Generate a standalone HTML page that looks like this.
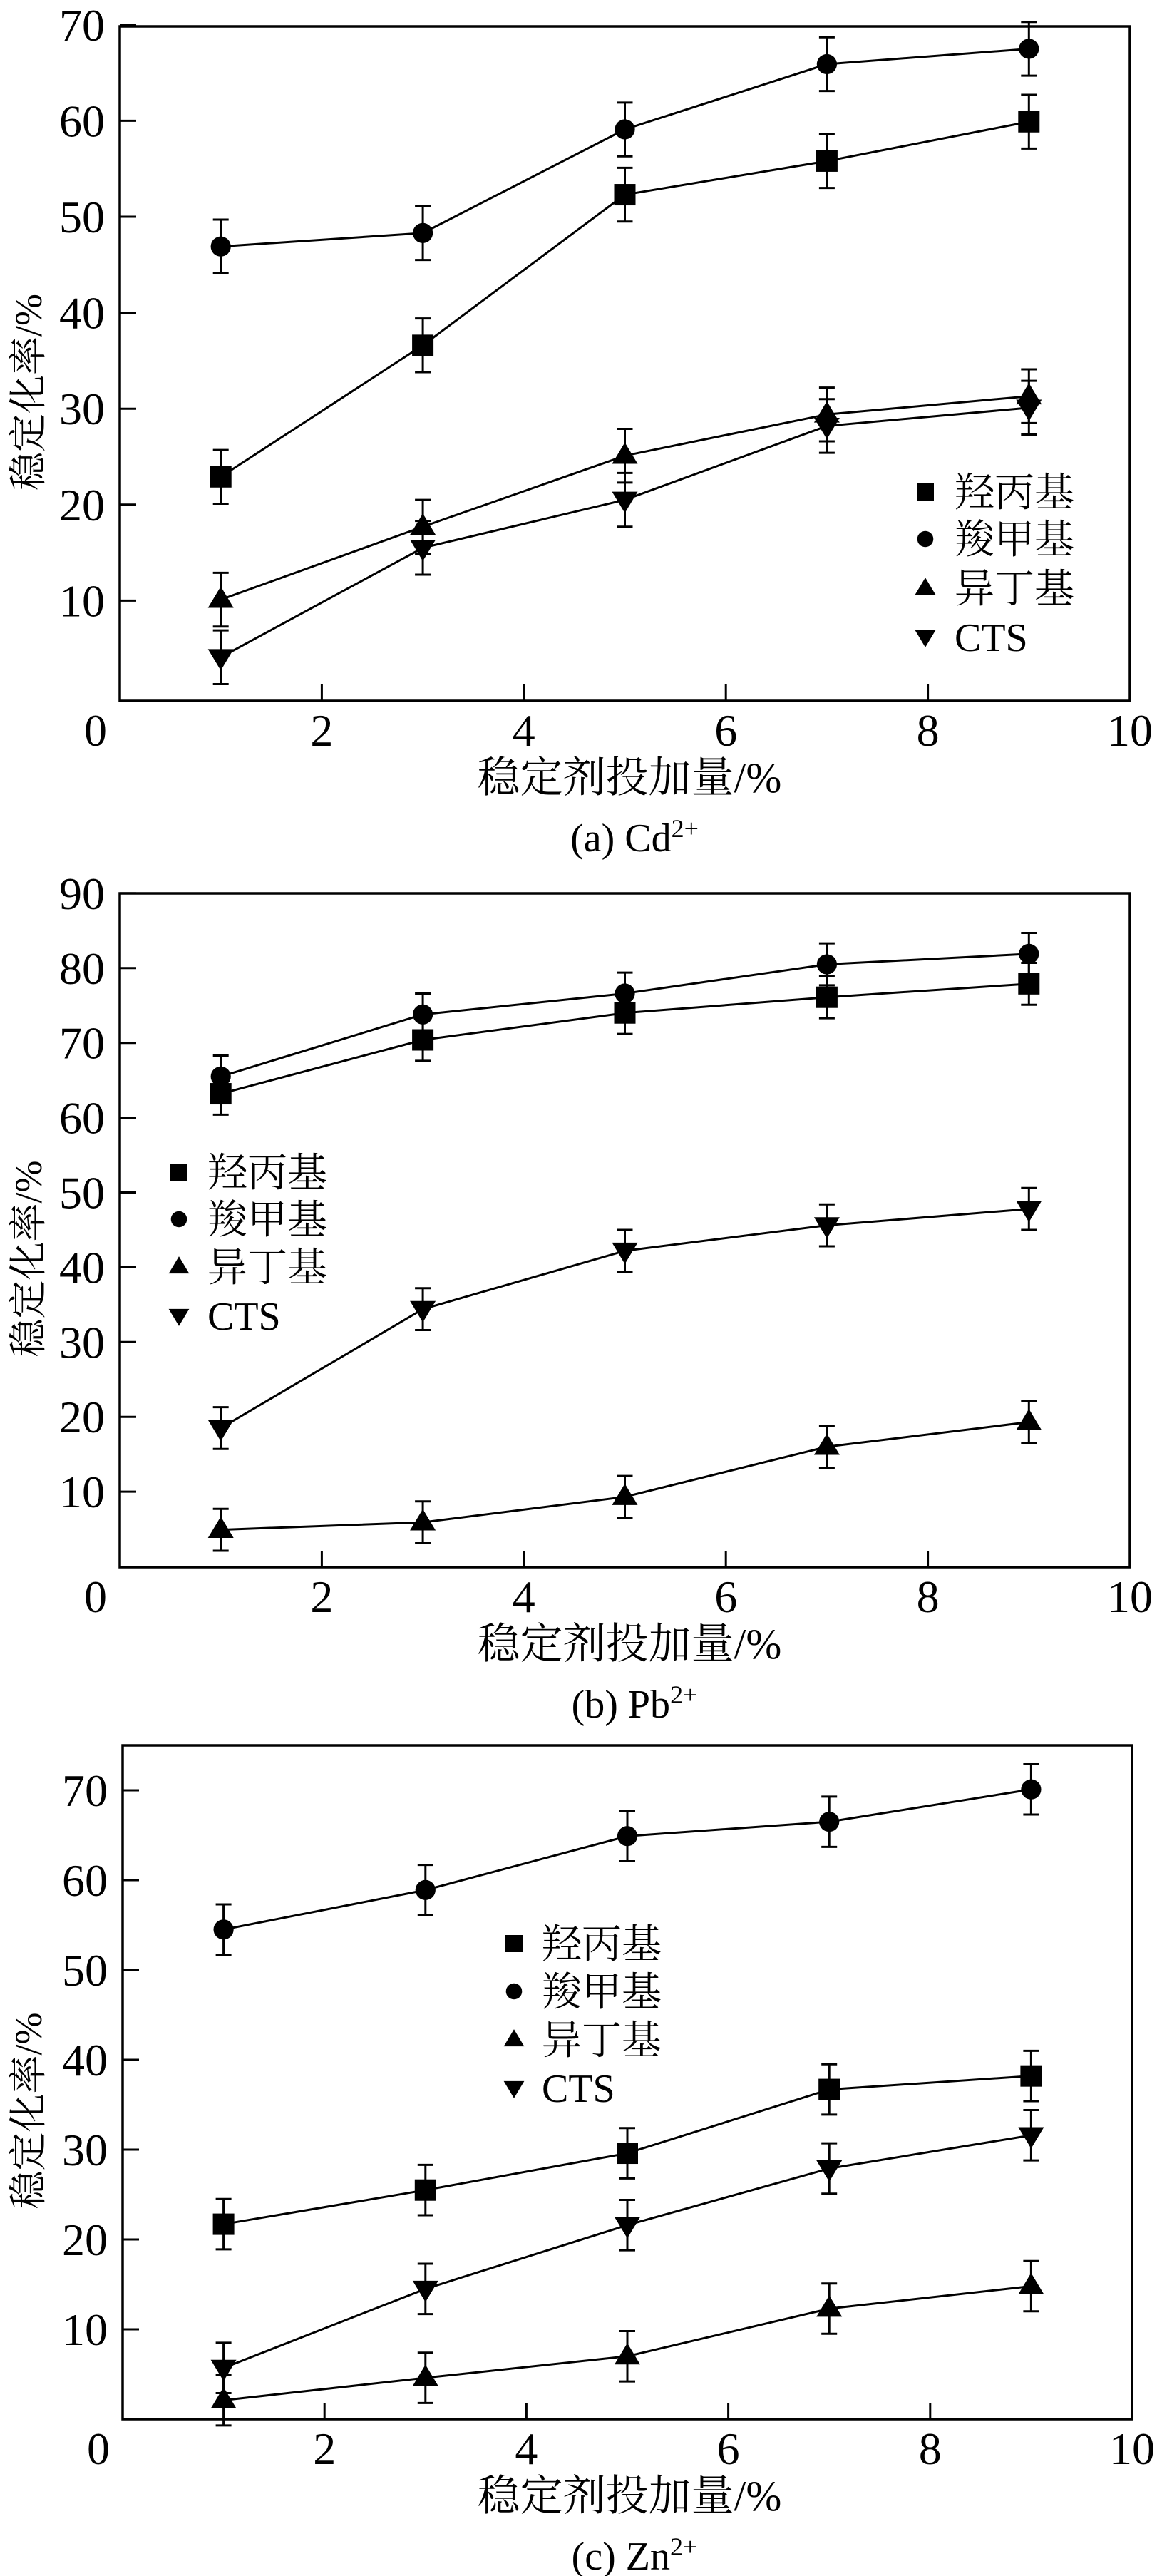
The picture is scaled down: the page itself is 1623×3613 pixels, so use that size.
<!DOCTYPE html>
<html><head><meta charset="utf-8">
<style>
html,body{margin:0;padding:0;background:#fff;}
svg{display:block;}
text{fill:#000;}
</style></head>
<body>
<svg id="fig" width="1623" height="3613" viewBox="0 0 1623 3613" xmlns="http://www.w3.org/2000/svg"></svg>
<script>
// ---- data ----
const xValues = [1, 3, 5, 7, 9];
const seriesNames = ["羟丙基", "羧甲基", "异丁基", "CTS"];
const xTicks = [2, 4, 6, 8, 10];

// Panel (a) Cd2+
const cdHydroxypropyl = [22.9, 36.6, 52.3, 55.8, 59.9];
const cdCarboxymethyl = [46.9, 48.3, 59.1, 65.9, 67.5];
const cdIsobutyl = [10.1, 17.7, 25.1, 29.4, 31.3];
const cdCTS = [4.1, 15.5, 20.5, 28.2, 30.1];
const cdYTicks = [10, 20, 30, 40, 50, 60, 70];

// Panel (b) Pb2+
const pbHydroxypropyl = [63.2, 70.4, 74.0, 76.1, 77.9];
const pbCarboxymethyl = [65.5, 73.8, 76.6, 80.5, 81.9];
const pbIsobutyl = [4.9, 5.9, 9.3, 16.0, 19.3];
const pbCTS = [18.5, 34.4, 42.2, 45.6, 47.8];
const pbYTicks = [10, 20, 30, 40, 50, 60, 70, 80, 90];

// Panel (c) Zn2+
const znHydroxypropyl = [21.7, 25.5, 29.6, 36.7, 38.2];
const znCarboxymethyl = [54.5, 58.9, 64.9, 66.5, 70.1];
const znIsobutyl = [2.1, 4.6, 7.0, 12.3, 14.8];
const znCTS = [5.7, 14.5, 21.6, 27.9, 31.6];
const znYTicks = [10, 20, 30, 40, 50, 60, 70];

const errorBar = 2.8;

const SERIF = '"Liberation Serif", serif';
const CJK = '"Liberation Serif", "Noto Serif CJK SC", serif';

const NS = "http://www.w3.org/2000/svg";
const svg = document.getElementById("fig");
function mk(tag, attrs, parent) {
  const e = document.createElementNS(NS, tag);
  for (const k in attrs) e.setAttribute(k, attrs[k]);
  (parent || svg).appendChild(e);
  return e;
}

const panels = [
  {key:"cd", series:[cdHydroxypropyl, cdCarboxymethyl, cdIsobutyl, cdCTS], yTicks:cdYTicks,
   left:168, right:1585, top:37, bottom:983, y0px:977, yPerUnit:13.46,
   legend:{mx:1298, tx:1339, y:[690,756,825,893]}, caption:["(a) Cd","2+"]},
  {key:"pb", series:[pbHydroxypropyl, pbCarboxymethyl, pbIsobutyl, pbCTS], yTicks:pbYTicks,
   left:168, right:1585, top:1253, bottom:2198, y0px:2197, yPerUnit:10.49,
   legend:{mx:251, tx:291, y:[1644,1710,1777,1845]}, caption:["(b) Pb","2+"]},
  {key:"zn", series:[znHydroxypropyl, znCarboxymethyl, znIsobutyl, znCTS], yTicks:znYTicks,
   left:172, right:1588, top:2448, bottom:3393, y0px:3393, yPerUnit:12.6,
   legend:{mx:721, tx:760, y:[2726,2793,2861,2928]}, caption:["(c) Zn","2+"]}
];
const markerTypes = ["square", "circle", "up", "down"];

function drawMarker(g, type, cx, cy, s) {
  let m;
  if (type === "square") m = mk("rect", {x:cx-s*0.5, y:cy-s*0.5, width:s, height:s, fill:"#000"}, g);
  else if (type === "circle") m = mk("circle", {cx:cx, cy:cy, r:s*0.47, fill:"#000"}, g);
  else if (type === "up") m = mk("polygon", {points:`${cx-s*0.6},${cy+s*0.38} ${cx+s*0.6},${cy+s*0.38} ${cx},${cy-s*0.62}`, fill:"#000"}, g);
  else m = mk("polygon", {points:`${cx-s*0.6},${cy-s*0.38} ${cx+s*0.6},${cy-s*0.38} ${cx},${cy+s*0.62}`, fill:"#000"}, g);
  return m;
}

panels.forEach(p => {
  const g = mk("g", {});
  
  
  const xPerUnit = (p.right - p.left) / 10;
  const X = v => p.left + v * xPerUnit;
  const Y = v => p.y0px - v * p.yPerUnit;

  const frame = mk("rect", {x:p.left, y:p.top, width:p.right-p.left, height:p.bottom-p.top, fill:"none", stroke:"#000", "stroke-width":3.5}, g);
  
  

  p.yTicks.forEach(t => {
    const ty = Y(t);
    const tl = mk("line", {x1:p.left, x2:p.left+23, y1:ty, y2:ty, stroke:"#000", "stroke-width":3}, g);
    
    
    const lb = mk("text", {x:p.left-21, y:ty+22, "text-anchor":"end", "font-family":SERIF, "font-size":64}, g);
    lb.textContent = t;
    
    
  });
  const o = mk("text", {x:p.left-34, y:p.bottom+63, "text-anchor":"middle", "font-family":SERIF, "font-size":64}, g);
  o.textContent = "0";
  
  

  xTicks.forEach(t => {
    const tx = X(t);
    if (t < 10) {
      const tl = mk("line", {x1:tx, x2:tx, y1:p.bottom, y2:p.bottom-23, stroke:"#000", "stroke-width":3}, g);
      
      
    }
    const lb = mk("text", {x:tx, y:p.bottom+63, "text-anchor":"middle", "font-family":SERIF, "font-size":64}, g);
    lb.textContent = t;
    
    
  });

  const xt = mk("text", {x:883, y:p.bottom+128, "text-anchor":"middle", "font-family":CJK, "font-size":60}, g);
  xt.textContent = "稳定剂投加量/%";
  
  
  const cy = (p.top + p.bottom) / 2 + 40;
  const yt = mk("text", {x:0, y:0, "text-anchor":"middle", "font-family":CJK, "font-size":54, transform:`translate(58,${cy}) rotate(-90)`}, g);
  yt.textContent = "稳定化率/%";
  
  

  const cap = mk("text", {x:890, y:p.bottom+211, "text-anchor":"middle", "font-family":CJK, "font-size":56}, g);
  
  
  const t1 = mk("tspan", {}, cap); t1.textContent = p.caption[0];
  const t2 = mk("tspan", {dy:-20, "font-size":36}, cap); t2.textContent = p.caption[1];

  p.series.forEach((vals, si) => {
    const sg = mk("g", {}, g);
    
    
    const pts = vals.map((v, i) => `${X(xValues[i])},${Y(v)}`).join(" ");
    const pl = mk("polyline", {points:pts, fill:"none", stroke:"#000", "stroke-width":3}, sg);
    
    
    vals.forEach((v, i) => {
      const cx = X(xValues[i]);
      const yTop = Y(v + errorBar), yBot = Y(v - errorBar);
      const eb = mk("path", {d:`M${cx},${yTop}V${yBot}M${cx-11},${yTop}H${cx+11}M${cx-11},${yBot}H${cx+11}`, stroke:"#000", "stroke-width":3, fill:"none"}, sg);
      
      
      const m = drawMarker(sg, markerTypes[si], cx, Y(v), 30);
      
      
    });
  });

  const lg = mk("g", {}, g);
  
  
  seriesNames.forEach((name, si) => {
    const ly = p.legend.y[si];
    const m = drawMarker(lg, markerTypes[si], p.legend.mx, ly, 24);
    
    
    const lt = mk("text", {x:p.legend.tx, y:ly+20, "font-family":CJK, "font-size":56}, lg);
    lt.textContent = name;
    
    
  });
});
</script>
</body></html>
